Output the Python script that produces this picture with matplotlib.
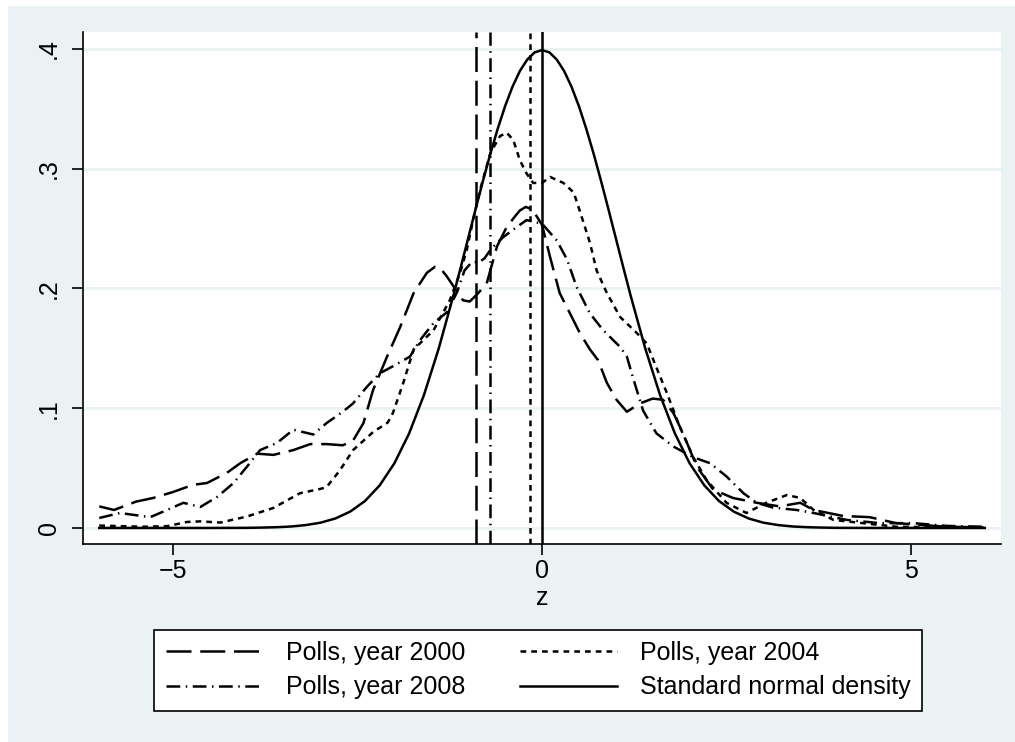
import matplotlib
matplotlib.use('Agg')
import matplotlib.pyplot as plt
from matplotlib.patches import Rectangle

plt.rcParams['font.family'] = ['Liberation Sans', 'DejaVu Sans']

# -----------------------------
# data
# -----------------------------
z_2000 = [-6.0, -5.8, -5.5, -5.27, -5.0, -4.73, -4.54, -4.27, -4.09, -3.86, -3.64, -3.37,
          -3.14, -2.92, -2.70, -2.56, -2.42, -2.29, -2.10, -1.92, -1.74, -1.56, -1.45,
          -1.38, -1.29, -1.18, -1.07, -0.98, -0.88, -0.75, -0.61, -0.48, -0.38, -0.30,
          -0.22, -0.14, -0.07, 0.0, 0.11, 0.24, 0.38, 0.51, 0.65, 0.76, 0.88, 1.01, 1.15,
          1.33, 1.50, 1.64, 1.78, 1.91, 2.10, 2.32, 2.59, 2.91, 3.22, 3.5, 3.68, 4.08,
          4.44, 4.8, 5.49, 6.0]
dens_2000 = [.018, .015, .022, .025, .030, .036, .0375, .046, .054, .062, .061, .065,
             .070, .070, .069, .073, .0875, .115, .143, .168, .196, .213, .218,
             .217, .210, .200, .190, .189, .195, .204, .235, .251, .259, .265,
             .268, .266, .26, .253, .226, .196, .179, .163, .149, .140, .121, .107, .097,
             .104, .108, .107, .096, .079, .051, .032, .025, .021, .018, .021, .015, .010,
             .009, .004, .001, .0005]

z_2004 = [-6.0, -5.4, -5.08, -4.81, -4.63, -4.36, -4.0, -3.64, -3.28, -3.01, -2.92, -2.74,
          -2.56, -2.29, -2.09, -2.02, -1.88, -1.74, -1.47, -1.25, -1.11, -1.02, -0.93,
          -0.84, -0.70, -0.57, -0.48, -0.39, -0.30, -0.21, -0.12, 0.0, 0.11, 0.29, 0.43,
          0.51, 0.65, 0.74, 0.88, 1.06, 1.28, 1.42, 1.55, 1.69, 1.87, 2.05, 2.23, 2.5,
          2.77, 3.04, 3.32, 3.5, 3.68, 3.95, 4.35, 4.8, 5.5, 6.0]
dens_2004 = [.002, .001, .0015, .005, .0055, .0045, .0095, .0167, .029, .0325, .034, .048,
             .065, .080, .088, .096, .121, .149, .165, .190, .213, .232, .258,
             .282, .313, .327, .330, .324, .307, .296, .288, .288, .293, .288, .280,
             .265, .238, .215, .196, .176, .163, .154, .134, .113, .084, .059, .040, .021,
             .0125, .021, .0275, .025, .015, .0067, .004, .001, .0005, .0003]

z_2008 = [-6.0, -5.72, -5.31, -5.08, -4.86, -4.63, -4.40, -4.18, -4.0, -3.82, -3.59, -3.37,
          -3.1, -2.92, -2.70, -2.56, -2.37, -2.2, -2.02, -1.79, -1.65, -1.47, -1.29, -1.15,
          -1.05, -0.95, -0.85, -0.78, -0.70, -0.61, -0.52, -0.39, -0.21, -0.07, 0.0, 0.2,
          0.34, 0.47, 0.65, 0.83, 1.06, 1.15, 1.24, 1.37, 1.55, 1.78, 2.05, 2.28, 2.5,
          2.73, 2.91, 3.13, 3.45, 3.68, 4.13, 4.58, 5.03, 5.49, 6.0]
dens_2008 = [.0083, .0125, .009, .015, .021, .0175, .026, .0375, .051, .065, .071, .082,
             .078, .0875, .097, .104, .118, .129, .135, .143, .157, .171, .180, .197,
             .215, .222, .222, .225, .232, .238, .243, .249, .257, .255, .254, .240,
             .224, .201, .179, .165, .151, .143, .124, .098, .079, .068, .059, .054, .043,
             .029, .021, .017, .015, .0125, .0067, .004, .004, .0017, .001]

norm_z = [-6.0, -5.0, -4.5, -4.0, -3.8, -3.6, -3.4, -3.2, -3.0, -2.8, -2.6, -2.4, -2.2,
          -2.0, -1.8, -1.6, -1.4, -1.2, -1.1, -1.0, -0.9, -0.8, -0.7, -0.6, -0.5, -0.4,
          -0.3, -0.2, -0.1, 0.0, 0.1, 0.2, 0.3, 0.4, 0.5, 0.6, 0.7, 0.8, 0.9, 1.0, 1.1,
          1.2, 1.4, 1.6, 1.8, 2.0, 2.2, 2.4, 2.6, 2.8, 3.0, 3.2, 3.4, 3.6, 3.8, 4.0, 4.5,
          5.0, 6.0]
norm_dens = [0.0, 0.0, 0.0, .0001, .0003, .0006, .0012, .0024, .0044, .0079, .0136, .0224,
             .0355, .0540, .0790, .1109, .1497, .1942, .2179, .2420, .2661, .2897, .3123,
             .3332, .3521, .3683, .3814, .3910, .3970, .3989, .3970, .3910, .3814, .3683,
             .3521, .3332, .3123, .2897, .2661, .2420, .2179, .1942, .1497, .1109, .0790,
             .0540, .0355, .0224, .0136, .0079, .0044, .0024, .0012, .0006, .0003, .0001,
             0.0, 0.0, 0.0]

# means shown as vertical lines
mean_2000 = -0.89
mean_2008 = -0.70
mean_2004 = -0.16
mean_norm = 0.0

labels = ['Polls, year 2000', 'Polls, year 2004', 'Polls, year 2008',
          'Standard normal density']
xticks = [-5, 0, 5]
xticklabels = ['\u22125', '0', '5']
yticks = [0, 0.1, 0.2, 0.3, 0.4]
yticklabels = ['0', '.1', '.2', '.3', '.4']

# -----------------------------
# figure
# -----------------------------
W, H = 1015, 742
fig = plt.figure(figsize=(W / 100, H / 100), dpi=100, facecolor='white')
fig.patches.append(Rectangle((8 / W, 0), 1 - 8 / W, 1 - 6 / H, transform=fig.transFigure,
                             facecolor='#eaf2f3', edgecolor='none', zorder=-5))

ax = fig.add_axes([83 / W, 1 - 544 / H, (1001 - 83) / W, (544 - 32) / H])
ax.set_facecolor('white')

lw = 1.8
ls_2000 = (0, (10, 3.5))
ls_2004 = (0, (2.3, 2))
ls_2008 = (0, (5.5, 2.2, 0.6, 2.2))

for y in yticks:
    ax.axhline(y, color='#eaf2f3', lw=2, zorder=0)

l1, = ax.plot(z_2000, dens_2000, color='black', lw=lw, linestyle=ls_2000)
l2, = ax.plot(z_2004, dens_2004, color='black', lw=lw, linestyle=ls_2004)
l3, = ax.plot(z_2008, dens_2008, color='black', lw=lw, linestyle=ls_2008)
l4, = ax.plot(norm_z, norm_dens, color='black', lw=lw, linestyle='-')

ax.axvline(mean_2000, color='black', lw=lw, linestyle=ls_2000)
ax.axvline(mean_2008, color='black', lw=lw, linestyle=ls_2008)
ax.axvline(mean_2004, color='black', lw=lw, linestyle=ls_2004)
ax.axvline(mean_norm, color='black', lw=lw, linestyle='-')

ax.set_xlim(-6.22, 6.22)
ax.set_ylim(-0.0134, 0.414)

for s in ['top', 'right']:
    ax.spines[s].set_visible(False)
for s in ['left', 'bottom']:
    ax.spines[s].set_linewidth(1.2)

ax.set_xticks(xticks)
ax.set_xticklabels(xticklabels, fontsize=18)
ax.set_yticks(yticks)
ax.set_yticklabels(yticklabels, fontsize=18, rotation=90, va='center')
ax.tick_params(axis='x', length=8, width=1.2, pad=3)
ax.tick_params(axis='y', length=8, width=1.2, pad=8)
ax.set_xlabel('z', fontsize=18, labelpad=2)

# legend fills column by column: 2000 / 2008 left, 2004 / normal right
leg = fig.legend([l1, l3, l2, l4], [labels[0], labels[2], labels[1], labels[3]],
                 loc='center', bbox_to_anchor=(538 / W, 1 - 670 / H),
                 ncol=2, fontsize=18, frameon=True, fancybox=False, handlelength=3.9,
                 handletextpad=0.9, columnspacing=2.2, labelspacing=0.42,
                 borderpad=0.45, borderaxespad=0)
leg.get_frame().set_edgecolor('black')
leg.get_frame().set_linewidth(1.2)
leg.get_frame().set_facecolor('white')
leg.get_frame().set_alpha(1)

fig.savefig('out.png', dpi=100, facecolor=fig.get_facecolor())
